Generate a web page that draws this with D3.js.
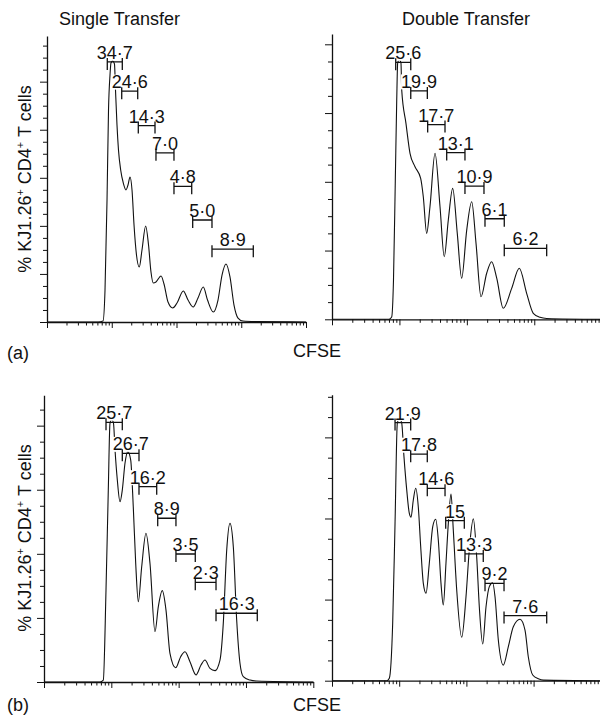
<!DOCTYPE html>
<html>
<head>
<meta charset="utf-8">
<script src="https://cdn.jsdelivr.net/npm/d3@7"></script>
<style>
  body { margin: 0; background: #fff; }
  text { font-family: "Liberation Sans", Arial, Helvetica, sans-serif; fill: #111; }
</style>
</head>
<body>
<script>
// histogram points: [log10 CFSE, cell count]
var singleA = [[0,0],[0.79,0],[0.865,0.8],[0.896,26.6],[0.927,101.5],[0.950,176.4],[0.973,205.6],[0.988,215.6],[1.015,217.2],[1.042,214.7],[1.058,193.1],[1.081,164],[1.104,143.2],[1.138,126.5],[1.178,115.7],[1.220,109.9],[1.251,114],[1.282,120.7],[1.313,109.9],[1.344,80.7],[1.382,55.8],[1.425,45.8],[1.467,59.9],[1.524,79.9],[1.568,64.1],[1.606,41.6],[1.642,32.5],[1.683,33.3],[1.761,38.3],[1.807,31.6],[1.869,16.6],[1.941,11.7],[2.008,15.8],[2.105,25.8],[2.178,18.3],[2.259,12.5],[2.332,20],[2.414,29.1],[2.479,18.3],[2.568,8.3],[2.641,18.3],[2.703,39.1],[2.764,48.3],[2.826,37.5],[2.888,14.1],[2.950,3.3],[3.027,0.8],[3.212,0.4],[4,0]];
var doubleA = [[0,0],[0.845,0],[0.885,1.3],[0.912,22.9],[0.939,81],[0.960,127.6],[0.974,149.1],[0.998,151.1],[1.023,149.1],[1.034,133.4],[1.097,114],[1.157,96.6],[1.231,88.8],[1.315,82],[1.354,71.3],[1.404,50],[1.453,65.5],[1.528,96.6],[1.602,65.5],[1.665,36.4],[1.725,57.8],[1.790,76.2],[1.858,50],[1.923,23.9],[1.998,51.9],[2.072,68.4],[2.136,44.2],[2.210,13.1],[2.294,26.8],[2.368,33.5],[2.443,23.9],[2.540,6.4],[2.665,18],[2.778,29.7],[2.887,15.1],[2.985,3.5],[3.085,1.2],[3.184,0.5],[4,0]];
var singleB = [[0,0],[0.832,0],[0.881,1.2],[0.921,57.4],[0.955,119.8],[0.980,161.4],[1.005,163.8],[1.032,161.6],[1.055,144.8],[1.089,126.1],[1.129,112.5],[1.163,119.8],[1.203,136.5],[1.245,143.8],[1.288,138.5],[1.326,109.4],[1.362,74.1],[1.401,50.1],[1.451,71.9],[1.515,92.8],[1.574,74.1],[1.649,31.4],[1.698,47],[1.757,57],[1.812,44.9],[1.871,17.9],[1.956,8.9],[2.030,15.8],[2.094,18.9],[2.168,12.7],[2.258,4.4],[2.332,10.6],[2.391,13.7],[2.465,8.5],[2.540,7.1],[2.614,13.7],[2.663,36.6],[2.714,82.4],[2.762,99],[2.812,84.4],[2.862,38.7],[2.911,11.7],[2.960,3.3],[3.060,1.2],[3.159,0.6],[4,0]];
var doubleB = [[0,0],[0.818,0],[0.853,1.2],[0.903,28.3],[0.938,77.6],[0.972,127],[1.004,129.3],[1.037,127.1],[1.071,110.5],[1.112,94.1],[1.150,82.6],[1.176,80.6],[1.210,89.1],[1.246,94.9],[1.284,85.8],[1.320,66.1],[1.359,48],[1.399,43.1],[1.448,57.9],[1.499,76],[1.543,79.6],[1.582,69.4],[1.622,48],[1.656,37.3],[1.696,57.9],[1.731,77.6],[1.771,92.1],[1.805,74.3],[1.856,44.7],[1.930,21.4],[1.994,41.4],[2.043,64.5],[2.103,79.8],[2.153,61.2],[2.192,36.5],[2.243,18.1],[2.292,36.5],[2.341,46.4],[2.391,48.3],[2.426,41.4],[2.475,20.1],[2.549,7.7],[2.624,16.8],[2.698,26.6],[2.798,30.3],[2.872,25],[2.921,11.8],[2.987,2.8],[3.070,1],[3.144,0.3],[4,0]];

// gates: [from, to (log10 CFSE), marker height (count), % label]
var gatesSingleA = [[0.931,1.163,216.4,"34·7"],[1.154,1.401,192.1,"24·6"],[1.410,1.668,163.5,"14·3"],[1.683,1.961,140.8,"7·0"],[1.961,2.235,112.9,"4·8"],[2.250,2.548,84.9,"5·0"],[2.548,3.186,60.6,"8·9"]];
var gatesDoubleA = [[0.945,1.168,149.5,"25·6"],[1.168,1.414,132.9,"19·9"],[1.419,1.676,113.3,"17·7"],[1.701,1.972,97.0,"13·1"],[1.972,2.254,77.5,"10·9"],[2.269,2.555,58.5,"6·1"],[2.555,3.184,41.3,"6·2"]];
var gatesSingleB = [[0.921,1.163,162.1,"25·7"],[1.163,1.411,142.7,"26·7"],[1.411,1.674,121.9,"16·2"],[1.689,1.960,102.2,"8·9"],[1.960,2.247,79.9,"3·5"],[2.247,2.555,62.2,"2·3"],[2.555,3.168,42.9,"16·3"]];
var gatesDoubleB = [[0.938,1.171,127.3,"21·9"],[1.171,1.418,111.7,"17·8"],[1.418,1.682,94.9,"14·6"],[1.692,1.969,78.9,"15"],[1.979,2.251,62.5,"13·3"],[2.277,2.560,48,"9·2"],[2.560,3.195,32.1,"7·6"]];

var titles = ["Single Transfer", "Double Transfer"];
var rowLabels = ["(a)", "(b)"];

var svg = d3.select("body").append("svg")
    .attr("width", 600)
    .attr("height", 723);

var panels = [
  {curve: singleA, gates: gatesSingleA, left: 47, right: 306, bottom: 322, top: 36, ymax: 238},
  {curve: doubleA, gates: gatesDoubleA, left: 332, right: 601.7, bottom: 319.3, top: 34, ymax: 166},
  {curve: singleB, gates: gatesSingleB, left: 44, right: 313.3, bottom: 682, top: 395.2, ymax: 179},
  {curve: doubleB, gates: gatesDoubleB, left: 332, right: 600.8, bottom: 680.7, top: 394.8, ymax: 141}
];

panels.forEach(function(p) {
  var x = d3.scaleLog().domain([1, 1e4]).range([p.left, p.right]),
      y = d3.scaleLinear().domain([0, p.ymax]).range([p.bottom, p.top]);
  var g = svg.append("g");

  var xa = g.append("g")
      .attr("transform", "translate(0," + p.bottom + ")")
      .call(d3.axisBottom(x).tickValues(x.ticks()).tickFormat("").tickSizeOuter(0));
  xa.selectAll(".tick line")
      .attr("y2", function(d) { return Math.abs(Math.log10(d) % 1) < 1e-6 ? 6 : 3.5; });

  var ya = g.append("g")
      .attr("transform", "translate(" + p.left + ",0)")
      .call(d3.axisLeft(y).tickValues(d3.range(0, p.ymax, 10)).tickFormat("").tickSizeOuter(0));
  ya.selectAll(".tick line")
      .attr("x2", function(d) { return d % 40 === 0 ? -7 : -4; });

  g.selectAll(".domain").attr("stroke", "#111").attr("stroke-width", 1.3);
  g.selectAll(".tick line").attr("stroke", "#111");

  var line = d3.line()
      .curve(d3.curveMonotoneX)
      .x(function(d) { return x(Math.pow(10, d[0])); })
      .y(function(d) { return y(d[1]); });

  g.append("path")
      .attr("d", line(p.curve))
      .attr("fill", "none")
      .attr("stroke", "#111")
      .attr("stroke-width", 1.1);

  p.gates.forEach(function(gt) {
    var x0 = x(Math.pow(10, gt[0])), x1 = x(Math.pow(10, gt[1])), yy = y(gt[2]);
    var lab = g.append("text")
        .attr("x", (x0 + x1) / 2)
        .attr("y", yy - 3)
        .attr("text-anchor", "middle")
        .style("font-size", "18px")
        .text(gt[3]);
    var bb = lab.node().getBBox();
    g.insert("rect", function() { return lab.node(); })
        .attr("x", bb.x)
        .attr("y", yy - 16.5)
        .attr("width", bb.width)
        .attr("height", 15)
        .attr("fill", "#fff");
    g.append("path")
        .attr("d", "M" + x0 + "," + yy + "H" + x1 +
                   "M" + x0 + "," + (yy - 4) + "V" + (yy + 8) +
                   "M" + x1 + "," + (yy - 4) + "V" + (yy + 8))
        .attr("fill", "none")
        .attr("stroke", "#111")
        .attr("stroke-width", 1.3);
  });
});

svg.selectAll(".title")
    .data(titles)
  .enter().append("text")
    .attr("class", "title")
    .attr("x", function(d, i) { return i ? 466 : 119.5; })
    .attr("y", 25)
    .attr("text-anchor", "middle")
    .style("font-size", "18px")
    .text(function(d) { return d; });

[179, 538].forEach(function(cy, i) {
  var t = svg.append("text")
      .attr("transform", "translate(31," + cy + ") rotate(-90)")
      .attr("text-anchor", "middle")
      .style("font-size", "18px");
  t.append("tspan").text("% KJ1.26");
  t.append("tspan").attr("dy", -7).style("font-size", "11px").text("+");
  t.append("tspan").attr("dy", 7).text(" CD4");
  t.append("tspan").attr("dy", -7).style("font-size", "11px").text("+");
  t.append("tspan").attr("dy", 7).text(" T cells");

  svg.append("text")
      .attr("x", 7)
      .attr("y", i ? 711 : 359)
      .style("font-size", "18px")
      .text(rowLabels[i]);

  svg.append("text")
      .attr("x", 317)
      .attr("y", i ? 711 : 357)
      .attr("text-anchor", "middle")
      .style("font-size", "18px")
      .text("CFSE");
});
</script>
</body>
</html>
